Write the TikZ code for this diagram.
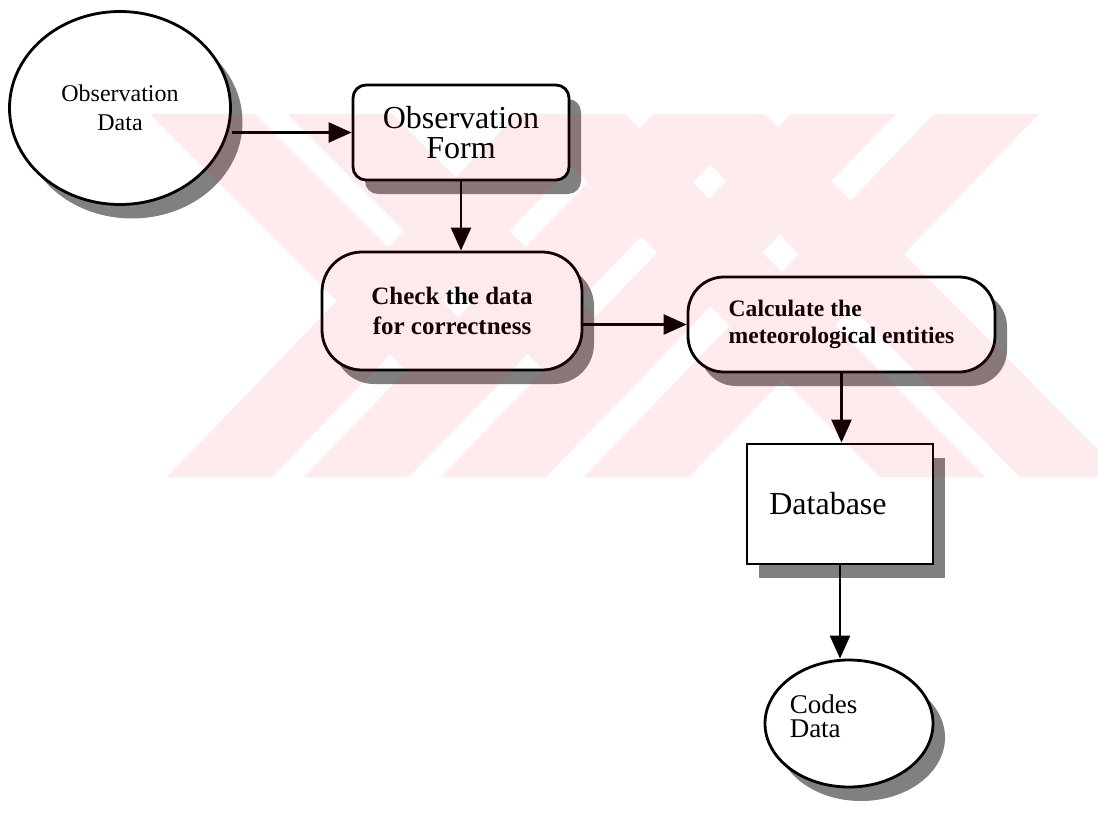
\documentclass[tikz,border=0pt]{standalone}
\usepackage{fontspec}
\setmainfont{Liberation Serif}
\usepackage{tikz}
\usetikzlibrary{shapes}
\usetikzlibrary{arrows.meta}
\usetikzlibrary{shadows}

\definecolor{wmred}{RGB}{230,20,50}
\definecolor{shadegray}{RGB}{128,128,128}

\tikzset{
  box/.style={draw, line width=1.4pt, fill=white, inner sep=0pt,
    drop shadow={shadow xshift=6pt, shadow yshift=-7pt, fill=shadegray, opacity=1}},
  oval/.style={box, ellipse},
  formbox/.style={box, rectangle, rounded corners=6.5pt},
  pill/.style={box, rectangle, rounded corners=20pt},
  store/.style={box, rectangle},
  flow/.style={line width=1.2pt, -{Triangle[length=11.5pt,width=10pt]}}
}

\begin{document}
\begin{tikzpicture}[x=0.5pt, y=-0.5pt]
  \useasboundingbox (0,0) rectangle (1098,819);
  \node[oval, minimum width=110.5pt, minimum height=96.5pt, align=center,
    font=\fontsize{12}{14.5}\selectfont] (obsdata) at (120,108) {Observation\\Data};
  \node[formbox, minimum width=108pt, minimum height=47.5pt, align=center,
    font=\fontsize{16}{15}\selectfont] (obsform) at (461,132.5) {Observation\\Form};
  \node[pill, minimum width=130pt, minimum height=59pt, align=center,
    font=\fontsize{12.5}{15}\selectfont\bfseries] (check) at (452,311) {Check the data\\for correctness};
  \node[pill, rounded corners=18pt, minimum width=153.5pt, minimum height=47.5pt, align=left,
    font=\fontsize{11.8}{13.8}\selectfont\bfseries] (calc) at (841.5,324.5) {Calculate the\\meteorological entities};
  \node[store, minimum width=93pt, minimum height=60pt,
    font=\fontsize{16}{16}\selectfont] (database) at (840,504) {\raisebox{-3.5pt}{Database}\hspace{12pt}\mbox{}};
  \node[oval, minimum width=84pt, minimum height=63.5pt] (codes) at (849,723.5) {};
  \node[align=left, inner sep=0pt, font=\fontsize{13.5}{12}\selectfont] (codestext) at (823.5,716) {Codes\\Data};

  \draw[flow] (obsdata.east |- obsform.west) -- (obsform.west);
  \draw[flow] (obsform.south) -- (obsform.south |- check.north);
  \draw[flow] (check.east |- calc.west) -- (calc.west);
  \draw[flow] (calc.south) -- (calc.south |- database.north);
  \draw[flow] (database.south) -- (database.south |- codes.north);

  \fill[wmred, opacity=0.085]
    foreach \s in {167,304,441,584} {(\s,477) -- ++(105,0) -- ++(350,-363) -- ++(-105,0) -- cycle}
    foreach \s in {880,1020} {(\s,477) -- ++(105,0) -- ++(-360,-363) -- ++(-105,0) -- cycle}
    (460,424) -- (512,371) -- (255,114) -- (150,114) -- cycle
    (597,424) -- (649,371) -- (392,114) -- (287,114) -- cycle;
\end{tikzpicture}
\end{document}
